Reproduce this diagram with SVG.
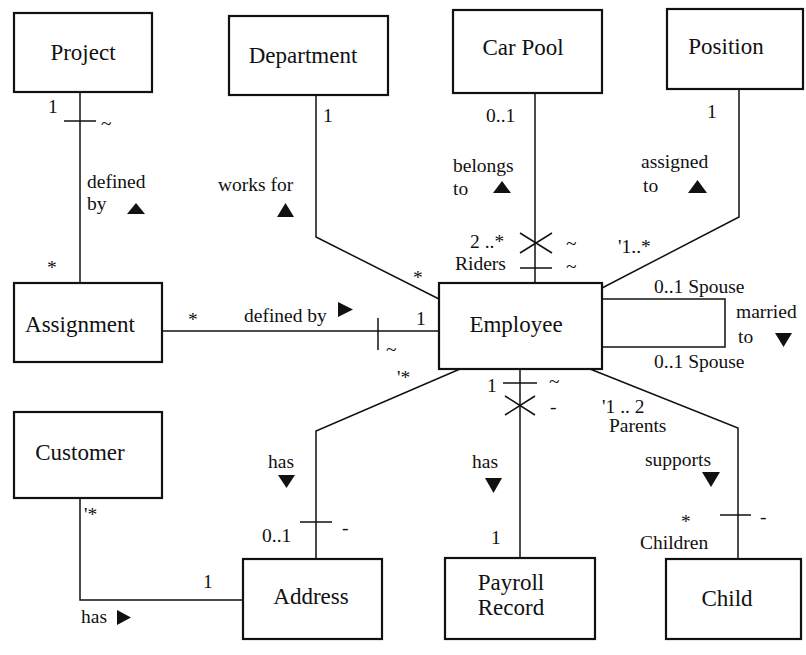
<svg xmlns="http://www.w3.org/2000/svg" width="806" height="655" viewBox="0 0 806 655" font-family="Liberation Serif, Tinos, Times New Roman, Times, serif">
<style>
.box{fill:#fff;stroke:#111;stroke-width:2.2}
.ln{fill:none;stroke:#111;stroke-width:1.5}
.nt{font-size:23px;fill:#111}
.lb{font-size:19.5px;fill:#111}
.tri{fill:#111}
</style>
<rect width="806" height="655" fill="#fff"/>
<g id="connectors">
<path class="ln" d="M80 92V283"/>
<path class="ln" d="M64 121H96"/>
<path class="ln" d="M316 95V237L439 299"/>
<path class="ln" d="M535 93V283"/>
<path class="ln" d="M520 233L552 253M520 253L552 233"/>
<path class="ln" d="M520 268H552"/>
<path class="ln" d="M739 89V217L602 288"/>
<path class="ln" d="M162 331H439"/>
<path class="ln" d="M378 318V350"/>
<path class="ln" d="M602 299H725V347H602"/>
<path class="ln" d="M460 369L316 431V559"/>
<path class="ln" d="M300 522H332"/>
<path class="ln" d="M520 369V558"/>
<path class="ln" d="M503 383H537"/>
<path class="ln" d="M505 396L535 415M505 415L535 396"/>
<path class="ln" d="M590 369L738 428V559"/>
<path class="ln" d="M720 515H751"/>
<path class="ln" d="M80 498V600H243"/>
<polygon class="tri" points="127,214 145,214 136,203"/>
<polygon class="tri" points="277,217 294,217 285.5,203"/>
<polygon class="tri" points="493,193 511,193 502,181"/>
<polygon class="tri" points="688,193 707,193 697.5,180"/>
<polygon class="tri" points="338,302 338,317 353,309.5"/>
<polygon class="tri" points="775,333 792,333 783.5,347"/>
<polygon class="tri" points="278,475 295,475 286.5,488"/>
<polygon class="tri" points="117,610 117,625 131,617.5"/>
<polygon class="tri" points="485,478 502,478 493.5,493"/>
<polygon class="tri" points="702,472 720,472 711,487"/>
<text class="lb" x="48" y="113">1</text>
<text class="lb" x="101" y="130">~</text>
<text class="lb" x="87" y="188">defined</text>
<text class="lb" x="87" y="210">by</text>
<text class="lb" x="47" y="274">*</text>
<text class="lb" x="323" y="122">1</text>
<text class="lb" x="218" y="191">works for</text>
<text class="lb" x="413" y="284">*</text>
<text class="lb" x="486" y="122">0..1</text>
<text class="lb" x="453" y="172">belongs</text>
<text class="lb" x="453" y="195">to</text>
<text class="lb" x="470" y="248">2 ..*</text>
<text class="lb" x="455" y="270">Riders</text>
<text class="lb" x="566" y="250">~</text>
<text class="lb" x="566" y="273">~</text>
<text class="lb" x="641" y="168">assigned</text>
<text class="lb" x="643" y="192">to</text>
<text class="lb" x="707" y="118">1</text>
<text class="lb" x="618" y="253">'1..*</text>
<text class="lb" x="188" y="326">*</text>
<text class="lb" x="244" y="322">defined by</text>
<text class="lb" x="416" y="325">1</text>
<text class="lb" x="386" y="356">~</text>
<text class="lb" x="654" y="293">0..1 Spouse</text>
<text class="lb" x="654" y="368">0..1 Spouse</text>
<text class="lb" x="736" y="318">married</text>
<text class="lb" x="738" y="343">to</text>
<text class="lb" x="397" y="384">'*</text>
<text class="lb" x="268" y="468">has</text>
<text class="lb" x="262" y="542">0..1</text>
<text class="lb" x="342" y="534">-</text>
<text class="lb" x="487" y="392">1</text>
<text class="lb" x="549" y="388">~</text>
<text class="lb" x="550" y="413">-</text>
<text class="lb" x="472" y="468">has</text>
<text class="lb" x="491" y="544">1</text>
<text class="lb" x="602" y="413">'1 .. 2</text>
<text class="lb" x="609" y="432">Parents</text>
<text class="lb" x="645" y="466">supports</text>
<text class="lb" x="681" y="528">*</text>
<text class="lb" x="640" y="549">Children</text>
<text class="lb" x="760" y="523">-</text>
<text class="lb" x="84" y="521">'*</text>
<text class="lb" x="203" y="588">1</text>
<text class="lb" x="81" y="623">has</text>
</g>
<g id="project"><rect class="box" x="14" y="13" width="138" height="79"/><text class="nt" x="83" y="60" text-anchor="middle">Project</text></g>
<g id="department"><rect class="box" x="229" y="16" width="159" height="79"/><text class="nt" x="303" y="63" text-anchor="middle">Department</text></g>
<g id="carpool"><rect class="box" x="453" y="10" width="149" height="83"/><text class="nt" x="523" y="55" text-anchor="middle">Car Pool</text></g>
<g id="position"><rect class="box" x="667" y="9" width="136" height="80"/><text class="nt" x="726" y="54" text-anchor="middle">Position</text></g>
<g id="assignment"><rect class="box" x="14" y="283" width="148" height="79"/><text class="nt" x="80" y="332" text-anchor="middle">Assignment</text></g>
<g id="employee"><rect class="box" x="439" y="283" width="163" height="86"/><text class="nt" x="516" y="332" text-anchor="middle">Employee</text></g>
<g id="customer"><rect class="box" x="14" y="412" width="148" height="86"/><text class="nt" x="80" y="460" text-anchor="middle">Customer</text></g>
<g id="address"><rect class="box" x="243" y="559" width="139" height="80"/><text class="nt" x="311" y="604" text-anchor="middle">Address</text></g>
<g id="payroll"><rect class="box" x="445" y="558" width="150" height="81"/><text class="nt" x="511" y="590" text-anchor="middle">Payroll</text><text class="nt" x="511" y="615" text-anchor="middle">Record</text></g>
<g id="child"><rect class="box" x="666" y="559" width="135" height="80"/><text class="nt" x="727" y="606" text-anchor="middle">Child</text></g>
</svg>
